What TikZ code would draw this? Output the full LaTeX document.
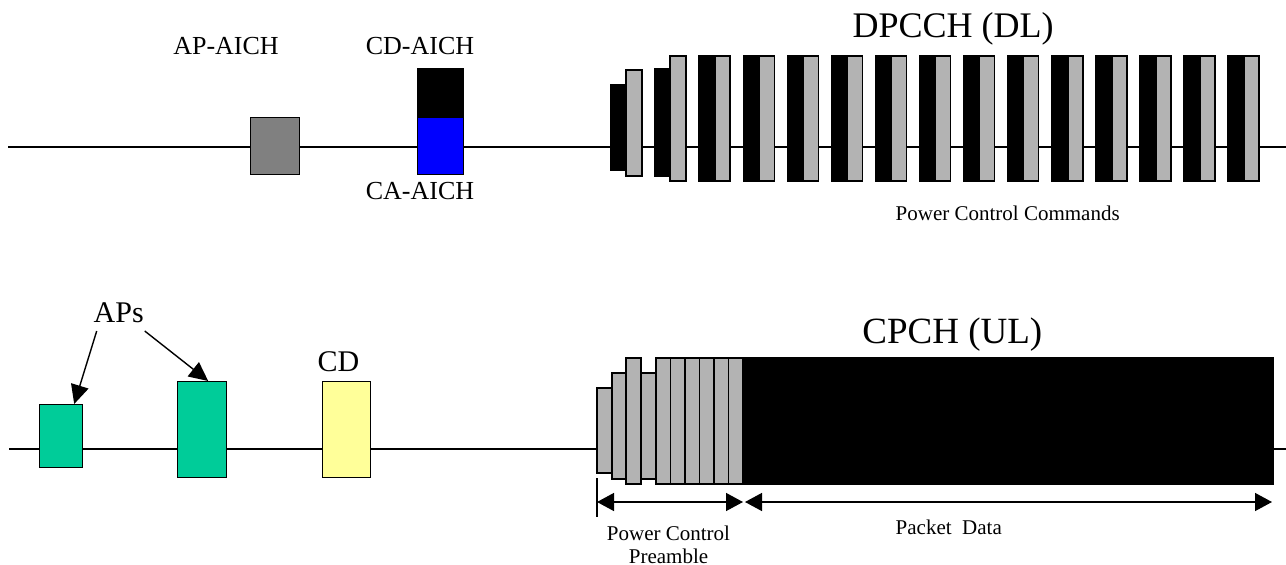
\documentclass[tikz,border=0pt]{standalone}
\usepackage{fontspec}
\setmainfont{Liberation Serif}
\usetikzlibrary{arrows.meta,positioning}
\definecolor{apgreen}{HTML}{00CC99}
\definecolor{cdyellow}{HTML}{FFFF99}
\definecolor{slotgray}{HTML}{B3B3B3}
\definecolor{aichgray}{HTML}{808080}
\tikzset{
    slot/.style={draw, rectangle, inner sep=0pt, anchor=north west},
    txt/.style={inner sep=0pt, font=\fontsize{#1}{#1}\selectfont},
    txt/.default=21,
    tip/.style={-{Triangle[length=19pt,width=18pt]}},
    dim/.style={{Triangle[length=17pt,width=18pt]}-{Triangle[length=17pt,width=18pt]}}
}
\begin{document}
\begin{tikzpicture}[x=1pt, y=-1pt, line width=1.4pt]
                \useasboundingbox (0,0) rectangle (1286,565);
                % downlink
                \draw (8,147) -- (1286,147);
                \node[slot, fill=aichgray, minimum width=49pt, minimum height=57pt] (apaich) at (250,117) {};
                \node[slot, fill=black, minimum width=46pt, minimum height=49pt] (cdaich) at (417,68) {};
                \node[slot, fill=blue, minimum width=46pt, minimum height=57pt] (caaich) at (417,117) {};
                \node[txt=26, anchor=base] (apaichlbl) at (226,54) {AP-AICH};
                \node[txt=26, anchor=base] (cdaichlbl) at (420,54) {CD-AICH};
                \node[txt=26, anchor=base] (caaichlbl) at (420,199) {CA-AICH};
                \draw[fill=black] (611,85) rectangle (626,170);
                \draw[fill=slotgray] (626,70) rectangle (642,176);
                \draw[fill=black] (655,69) rectangle (670,176);
                \draw[fill=slotgray] (670,56) rectangle (686,181);
                \foreach \i in {2,...,14} {
                    \draw[fill=black] (611+44.08*\i,56) rectangle (627+44.08*\i,181);
                    \draw[fill=slotgray] (627+44.08*\i,56) rectangle (642+44.08*\i,181);
                }
                \node[txt=36, anchor=base west] (dpcch) at (852,37) {DPCCH (DL)};
                \node[txt, anchor=base west] (pcc) at (895,220) {Power Control Commands};
                % uplink
                \draw (9,449) -- (1286,449);
                \node[slot, fill=apgreen, minimum width=43pt, minimum height=63pt] (ap1) at (39,404) {};
                \node[slot, fill=apgreen, minimum width=49pt, minimum height=96pt] (ap2) at (177,381) {};
                \node[slot, fill=cdyellow, minimum width=48pt, minimum height=96pt] (cd) at (322,381) {};
                \node[txt=30, anchor=base west] (aps) at (93,322) {APs};
                \node[txt=30, anchor=base west] (cdlbl) at (317,371) {CD};
                \draw[tip] ([xshift=-22pt,yshift=-8pt]aps.south) -- ([xshift=13pt]ap1.north);
                \draw[tip] ([xshift=26pt,yshift=-8pt]aps.south) -- ([xshift=6pt]ap2.north);
                \draw[fill=slotgray] (597,388) rectangle (612,473);
                \draw[fill=slotgray] (612,373) rectangle (626,479);
                \draw[fill=slotgray] (626,358) rectangle (641,484);
                \draw[fill=slotgray] (641,373) rectangle (656,479);
                \foreach \k in {0,...,5}
                    \draw[fill=slotgray] (656+14.5*\k,358) rectangle (670.5+14.5*\k,484);
                \node[slot, fill=black, minimum width=530pt, minimum height=127pt] (data) at (743,357) {};
                \node[txt=37, anchor=base east] (cpch) at (1043,343) {CPCH (UL)};
                \coordinate (prebeg) at (597,502);
                \coordinate (preend) at (743,502);
                \coordinate (databeg) at (745,502);
                \coordinate (dataend) at (1272,502);
                \draw (597,478) -- (597,517);
                \draw[dim] (prebeg) -- (preend);
                \draw[dim] (databeg) -- (dataend);
                \node[txt, anchor=base] (pcpre) at (668.5,540) {Power Control};
                \node[txt, anchor=base] (pcpre2) at (668.5,563) {Preamble};
                \node[txt, anchor=base west] (pdata) at (895,534) {Packet~~Data};
\end{tikzpicture}
\end{document}
